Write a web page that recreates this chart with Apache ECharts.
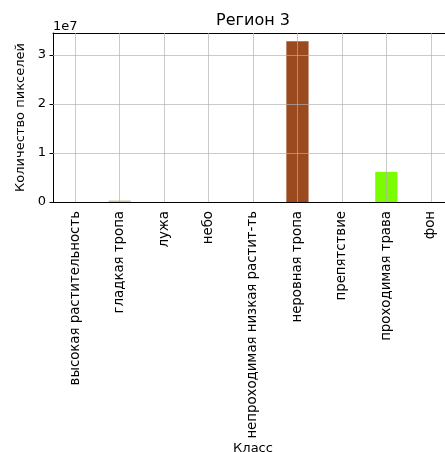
<!DOCTYPE html>
<html><head><meta charset="utf-8">
<script src="https://cdn.jsdelivr.net/npm/echarts@6/dist/echarts.min.js"></script>
<style>html,body{margin:0;padding:0;background:#fff}#c{width:445px;height:452px}</style>
</head><body><div id="c"></div>
<script>
const categories = ['высокая растительность','гладкая тропа','лужа','небо','непроходимая низкая растит-ть','неровная тропа','препятствие','проходимая трава','фон'];
const pixelCounts = [0, 300000, 0, 0, 0, 32800000, 0, 6150000, 0];
const yTicks = [0, 10000000, 20000000, 30000000];
const yMax = 34490000;
const titleText = 'Регион 3';
const xName = 'Класс';
const yName = 'Количество пикселей';
const scaleText = '1e7';

const barColors = ['#2e8b57','#cdc597','#4682b4','#87ceeb','#556b2f','#9b4a1f','#ff0000','#7cfc00','#808080'];
const font = 'DejaVu Sans';
const gridStyle = {color:'rgba(176,176,176,0.85)', width:0.8, type:'solid'};

const chart = echarts.init(document.getElementById('c'), null, {renderer:'canvas'});
chart.setOption({
  animation:false,
  backgroundColor:'#fff',
  title:[
    {text:titleText, left:253, top:13, padding:0, textAlign:'center', textStyle:{fontFamily:font, fontSize:16, fontWeight:'normal', color:'#000'}},
    {text:scaleText, left:53, top:20, padding:0, textStyle:{fontFamily:font, fontSize:13, fontWeight:'normal', color:'#000'}}
  ],
  grid:{left:53, top:33, width:400, height:169, containLabel:false, outerBoundsMode:'none'},
  xAxis:[{
    type:'category', data:categories, position:'bottom',
    name:xName, nameLocation:'middle', nameGap:239,
    nameTextStyle:{fontFamily:font, fontSize:13, color:'#000'},
    axisLine:{lineStyle:{color:'#000', width:1}},
    axisTick:{alignWithLabel:true, length:3.5, lineStyle:{color:'#000'}},
    axisLabel:{rotate:90, interval:0, margin:9, fontFamily:font, fontSize:13.3, color:'#000'},
    splitLine:{show:false}
  },{
    type:'category', data:categories, position:'top',
    axisLine:{lineStyle:{color:'#000', width:1}},
    axisTick:{show:false}, axisLabel:{show:false}, splitLine:{show:false}
  }],
  yAxis:{
    type:'value', min:0, max:yMax, interval:10000000,
    name:yName, nameLocation:'middle', nameGap:24,
    nameTextStyle:{fontFamily:font, fontSize:13, color:'#000'},
    axisLine:{show:true, lineStyle:{color:'#000', width:1}},
    axisTick:{show:true, length:3.5, lineStyle:{color:'#000'}},
    axisLabel:{margin:7, fontFamily:font, fontSize:13, color:'#000', showMaxLabel:false,
      formatter:v => (yTicks.indexOf(v) >= 0 ? String(v/1e7) : '')},
    splitLine:{show:false}
  },
  series:[{
    type:'bar', barWidth:'50%',
    data:pixelCounts.map((v,i)=>({value:v, itemStyle:{color:barColors[i]}})),
    markLine:{
      silent:true, symbol:'none', label:{show:false}, lineStyle:gridStyle, animation:false,
      data:[
        ...categories.map(c=>({xAxis:c})),
        ...yTicks.slice(1).map(t=>({yAxis:t}))
      ]
    }
  }]
});
</script></body></html>
